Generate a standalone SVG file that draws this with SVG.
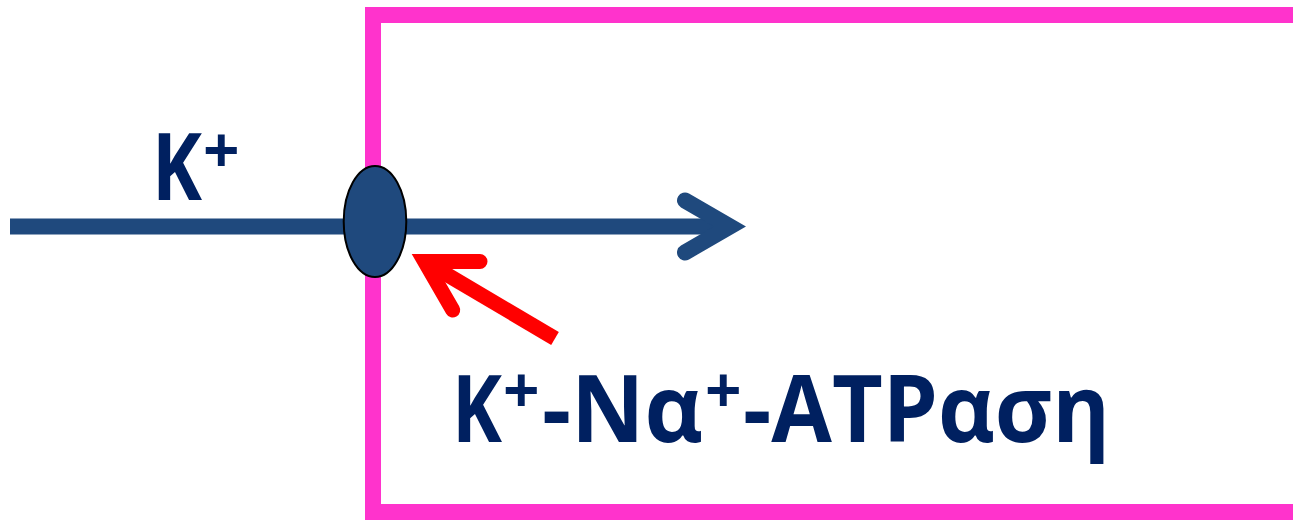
<svg xmlns="http://www.w3.org/2000/svg" width="1293" height="520" viewBox="0 0 1293 520">
  <style>
    .frame { fill: none; stroke: #FF33CC; stroke-width: 16; stroke-linejoin: miter; }
    .flux { fill: none; stroke: #1F497D; stroke-width: 16; }
    .point { fill: none; stroke: #FF0000; stroke-width: 15; }
    .lbl { font-family: "Open Sans", "Liberation Sans", sans-serif; font-weight: bold; fill: #002060; }
    .sup { font-size: 64px; }
    .main { font-size: 94px; }
  </style>
  <rect width="1293" height="520" fill="#FFFFFF"/>
  <g id="cell">
    <path class="frame" d="M1301,15 L373,15 L373,512 L1301,512"/>
  </g>
  <g id="connectors">
    <line class="flux" x1="10" y1="226.5" x2="731" y2="226.5" stroke-linecap="butt"/>
    <polyline class="flux" points="685,200.5 730,226.5 685,252.5" stroke-linecap="round" stroke-linejoin="miter"/>
    <line class="point" x1="424.7" y1="261.5" x2="555" y2="338.5" stroke-width="14" stroke-linecap="butt"/>
    <polyline class="point" points="480,261.5 424.7,261.5 452.7,310" stroke-linecap="round" stroke-linejoin="miter"/>
  </g>
  <g id="pump">
    <ellipse cx="375" cy="221.5" rx="31.3" ry="55.5" fill="#1F497D" stroke="#000000" stroke-width="2"/>
  </g>
  <g id="label-k">
    <text class="lbl"><tspan class="main" x="152" y="200" textLength="50" lengthAdjust="spacingAndGlyphs">K</tspan><tspan class="sup" x="203" y="172.5">+</tspan></text>
  </g>
  <g id="label-pump">
    <text class="lbl"><tspan class="main" x="452" y="441.7" textLength="50" lengthAdjust="spacingAndGlyphs">K</tspan><tspan class="sup" x="503" y="412.5">+</tspan><tspan class="main" x="542" y="441.7" textLength="161" lengthAdjust="spacingAndGlyphs">-Nα</tspan><tspan class="sup" x="705" y="412.5">+</tspan><tspan class="main" x="743" y="441.7" textLength="367" lengthAdjust="spacingAndGlyphs">-ATPαση</tspan></text>
  </g>
</svg>
